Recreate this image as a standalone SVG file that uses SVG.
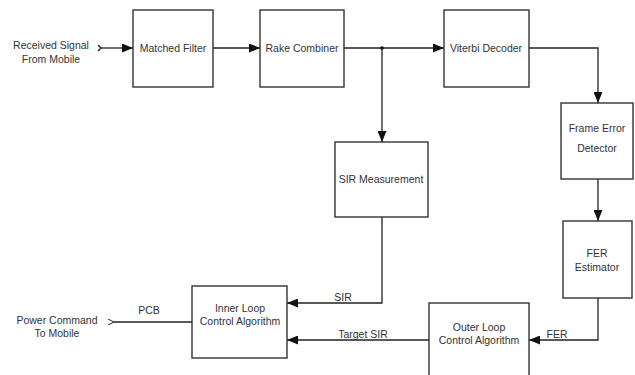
<svg xmlns="http://www.w3.org/2000/svg" width="635" height="375" viewBox="0 0 635 375">
<style>
.box{fill:#fff;stroke:#333;stroke-width:1.4}
.ln{fill:none;stroke:#222;stroke-width:1.3}
text{font-family:"Liberation Sans",Arial,sans-serif;font-size:10.5px;fill:#333;text-anchor:middle;dominant-baseline:central}
</style>
<defs>
<marker id="ah" markerWidth="11" markerHeight="9" refX="11" refY="4.5" orient="auto" markerUnits="userSpaceOnUse">
<path d="M0,0 L11,4.5 L0,9 Z" fill="#111"/>
</marker>
<marker id="oh" markerWidth="6" markerHeight="6" refX="0" refY="3" orient="auto" markerUnits="userSpaceOnUse">
<path d="M6,0 L0,3 L6,6" fill="none" stroke="#222" stroke-width="1"/>
</marker>
</defs>
<rect width="635" height="375" fill="#fff"/>
<g id="connectors">
<path class="ln" d="M101,48 L133,48" marker-end="url(#ah)"/>
<path class="ln" d="M98,45 L101,48 L98,51"/>
<path class="ln" d="M213,48 L260,48" marker-end="url(#ah)"/>
<path class="ln" d="M344,48 L444,48" marker-end="url(#ah)"/>
<circle cx="382" cy="48" r="1.8" fill="#111"/>
<path class="ln" d="M382,48 L382,142" marker-end="url(#ah)"/>
<path class="ln" d="M529,48 L598,48 L598,103" marker-end="url(#ah)"/>
<path class="ln" d="M598,179 L598,221" marker-end="url(#ah)"/>
<path class="ln" d="M382,217 L382,303 L287,303" marker-end="url(#ah)"/>
<path class="ln" d="M598,298 L598,340 L529,340" marker-end="url(#ah)"/>
<path class="ln" d="M429,340 L287,340" marker-end="url(#ah)"/>
<path class="ln" d="M192,322 L114,322" marker-end="url(#oh)"/>
<text x="343" y="297">SIR</text>
<text x="363" y="334">Target SIR</text>
<text x="557" y="334">FER</text>
<text x="149" y="310">PCB</text>
</g>
<g id="input"><text x="51" y="45">Received Signal</text><text x="51" y="59">From Mobile</text></g>
<g id="output"><text x="57" y="320">Power Command</text><text x="57" y="333">To Mobile</text></g>
<g id="matched-filter"><rect class="box" x="133" y="10" width="80" height="77"/><text x="173" y="48">Matched Filter</text></g>
<g id="rake-combiner"><rect class="box" x="260" y="10" width="84" height="77"/><text x="302" y="48">Rake Combiner</text></g>
<g id="viterbi-decoder"><rect class="box" x="444" y="10" width="85" height="77"/><text x="486" y="48">Viterbi Decoder</text></g>
<g id="frame-error-detector"><rect class="box" x="561" y="103" width="72" height="76"/><text x="597" y="128">Frame Error</text><text x="597" y="148">Detector</text></g>
<g id="fer-estimator"><rect class="box" x="563" y="221" width="69" height="77"/><text x="597" y="253">FER</text><text x="597" y="267">Estimator</text></g>
<g id="sir-measurement"><rect class="box" x="335" y="142" width="93" height="75"/><text x="381" y="179">SIR Measurement</text></g>
<g id="inner-loop"><rect class="box" x="192" y="286" width="95" height="72"/><text x="240" y="308">Inner Loop</text><text x="240" y="321">Control Algorithm</text></g>
<g id="outer-loop"><rect class="box" x="429" y="303" width="100" height="80"/><text x="479" y="327">Outer Loop</text><text x="479" y="340">Control Algorithm</text></g>
</svg>
